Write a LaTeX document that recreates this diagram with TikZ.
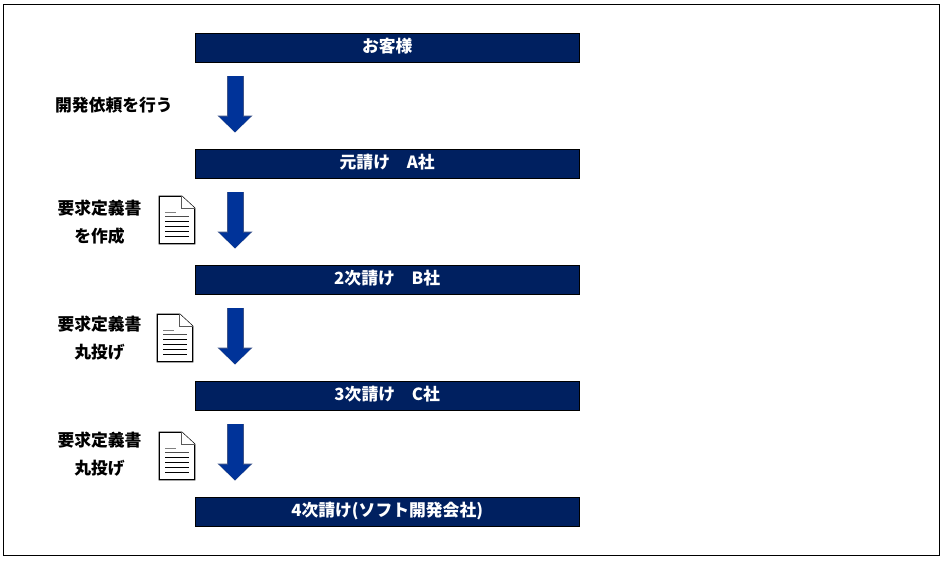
\documentclass[tikz,border=0pt]{standalone}
\usepackage{fontspec}
\newfontfamily\jp{Noto Sans CJK JP}
\usetikzlibrary{arrows.meta,calc}
\definecolor{barblue}{HTML}{002060}
\definecolor{arrowblue}{HTML}{003399}
\definecolor{arrowedge}{HTML}{3F5488}
\tikzset{
  bar/.style={draw=black,line width=0.8pt,fill=barblue,text=white,minimum width=384.5pt,minimum height=29.5pt,inner sep=0pt,text height=13pt,text depth=2.6pt,font=\jp\fontsize{16.8}{18}\selectfont\bfseries},
  lbl/.style={text=black,inner sep=0pt,align=center,font=\jp\fontsize{16.8}{28}\selectfont\bfseries},
  blockarrow/.style={
    shorten <=13.5pt,shorten >=16.5pt,
    line width=15pt,draw=arrowblue,
    -{Triangle[length=15.5pt,width=31pt,fill=arrowblue]},
    preaction={draw=arrowedge,line width=17pt,shorten <=13pt,shorten >=16pt,
      -{Triangle[length=17pt,width=34pt,fill=arrowedge]}}},
  pics/docicon/.style={code={
    \draw[line width=1.3pt,fill=white,draw=black] (0,0)--(22.5,0)--(35.5,12)--(35.5,47.5)--(0,47.5)--cycle;
    \draw[line width=1.2pt,fill=white,draw=gray!70!black] (22.5,0)--(22.5,12)--(35.5,12);
    \draw[line width=1.2pt,draw=gray] (6,16)--(17,16);
    \draw[line width=1.2pt,draw=gray!60!black] (6,20)--(30,20);
    \draw[line width=1.2pt,draw=black] (6,25)--(30,25) (6,30)--(30,30) (6,35)--(30,35) (6,40)--(30,40);
  }}
}
\begin{document}
\begin{tikzpicture}[x=1pt,y=-1pt]
\useasboundingbox (0,0) rectangle (946,561);
\draw[black,line width=1pt] (3.5,4.5) rectangle (939.5,555.5);
\node[bar] (b0) at (387.2,47.7) {お客様};
\node[bar] (b1) at (387.2,163.7) {元請け　A社};
\node[bar] (b2) at (387.2,279.7) {2次請け　B社};
\node[bar] (b3) at (387.2,395.7) {3次請け　C社};
\node[bar] (b4) at (387.2,511.7) {4次請け(ソフト開発会社)};
\coordinate (axis) at (235,0);
\draw[blockarrow] (b0.south -| axis) -- (b1.north -| axis);
\draw[blockarrow] (b1.south -| axis) -- (b2.north -| axis);
\draw[blockarrow] (b2.south -| axis) -- (b3.north -| axis);
\draw[blockarrow] (b3.south -| axis) -- (b4.north -| axis);
\node[lbl] (t0) at (114,105) {開発依頼を行う};
\node[lbl] (t1) at (99.5,222) {要求定義書\\を作成};
\node[lbl] (t2) at (99.5,338) {要求定義書\\丸投げ};
\node[lbl] (t3) at (99.5,454) {要求定義書\\丸投げ};
\pic at (159.2,196.2) {docicon};
\pic at (157.2,314.2) {docicon};
\pic at (159.2,432.2) {docicon};
\end{tikzpicture}
\end{document}
